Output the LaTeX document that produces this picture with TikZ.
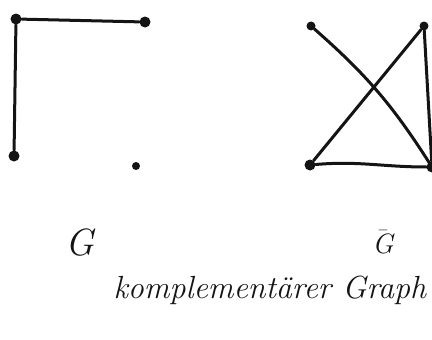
\documentclass[tikz,border=0pt]{standalone}
\usepackage{amsmath}
\begin{document}
\begin{tikzpicture}[x=1pt, y=-1pt, line cap=round]

\definecolor{InkColor}{RGB}{20,20,20}
\tikzset{
    vertex/.style={circle, fill=InkColor, inner sep=0pt, minimum size=11pt},
    edge/.style={draw=InkColor, line width=3pt},
}

\useasboundingbox (0,0) rectangle (432,340);

% ── Graph G (links) ─────────────────────────────────────────
\node[vertex] (gA) at (16,19)   {};
\node[vertex] (gB) at (145,22)  {};
\node[vertex] (gC) at (14,156)  {};
\node[vertex, minimum size=8pt] (gD) at (136,166) {};

\draw[edge] (gA) -- (gB);
\draw[edge] (gA) -- (gC);

% ── Komplement (rechts) ─────────────────────────────────────
\node[vertex, minimum size=9pt] (hA) at (311,26)  {};
\node[vertex, minimum size=9pt] (hB) at (424,26)  {};
\node[vertex] (hC) at (310,165) {};
\node[vertex] (hD) at (432,167) {};

\draw[edge] (hA) to[bend left=8] (hD);
\draw[edge] (hB) -- (hC);
\draw[edge] (hB) -- (hD);
\draw[edge] (hC) to[out=5, in=180] (hD);

% ── Beschriftungen ──────────────────────────────────────────
\node[font=\fontsize{38}{42}\selectfont\itshape, InkColor] (lblG)    at (80,243)  {G};
\node[font=\fontsize{28}{32}\selectfont, InkColor] (lblGbar) at (383,242) {$\bar{\mbox{\itshape G}}$};

\node[font=\fontsize{32}{36}\selectfont\itshape, InkColor, anchor=west]
    (caption) at (110,290) {komplement\"arer Graph};

\end{tikzpicture}
\end{document}
